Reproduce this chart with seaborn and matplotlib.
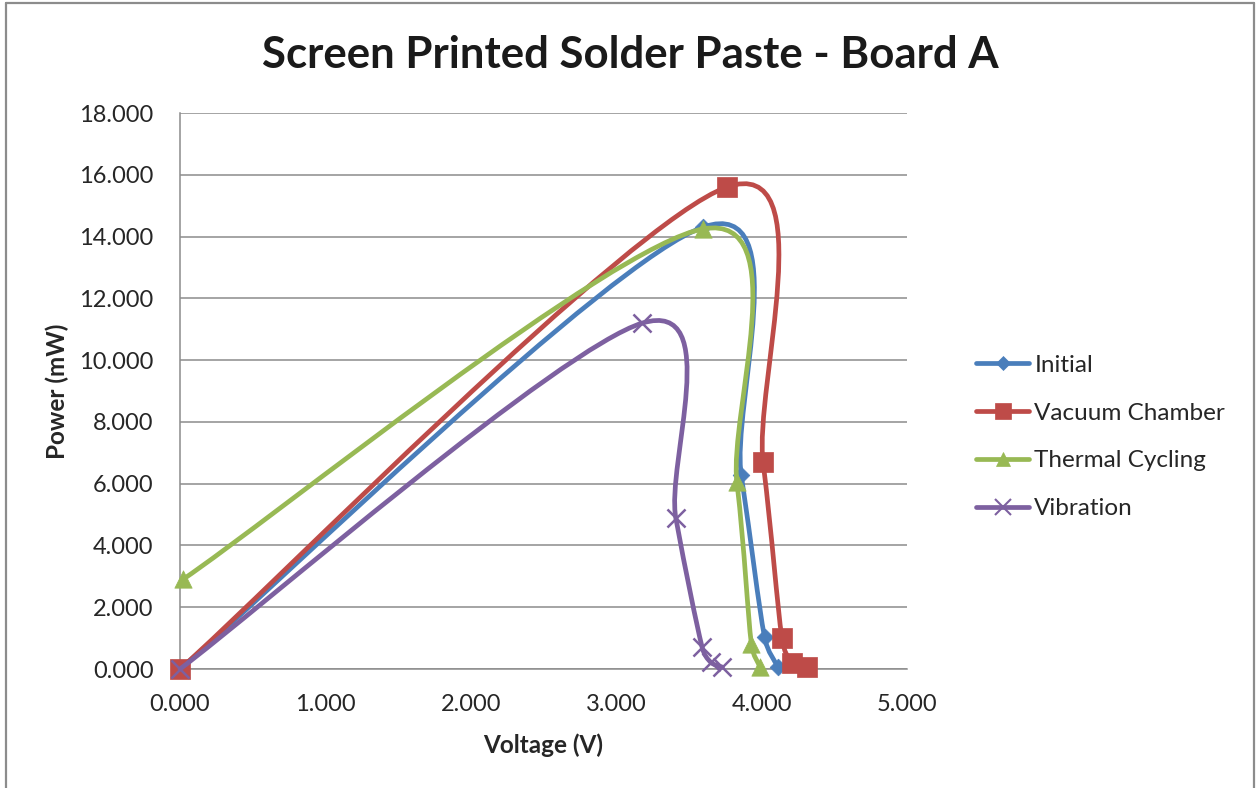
import numpy as np
import seaborn as sns
import matplotlib.pyplot as plt
from matplotlib.path import Path
from matplotlib.patches import PathPatch
from matplotlib.lines import Line2D
from matplotlib.ticker import FuncFormatter

# data (voltage in V, power in mW)
series_names = ["Initial", "Vacuum Chamber", "Thermal Cycling", "Vibration"]

initial_v = [0.000, 3.600, 3.860, 4.020, 4.110]
initial_p = [0.000, 14.310, 6.280, 1.040, 0.080]

vacuum_v = [0.000, 3.760, 4.010, 4.140, 4.210, 4.310]
vacuum_p = [0.000, 15.600, 6.700, 0.990, 0.190, 0.050]

thermal_v = [0.020, 3.600, 3.830, 3.930, 3.990]
thermal_p = [2.900, 14.250, 6.050, 0.800, 0.060]

vibration_v = [0.000, 3.180, 3.410, 3.590, 3.650, 3.730]
vibration_p = [0.000, 11.200, 4.890, 0.720, 0.220, 0.060]

colors = ["#4A7EBB", "#BE4B48", "#98B954", "#7D60A0"]
markers = ["D", "s", "^", "x"]
marker_sizes = [8.5, 14, 12.5, 13]


def excel_smooth(ax, xs, ys):
    # bezier path roughly like Excel's "smoothed line" option, built in pixel space
    pts = ax.transData.transform(np.column_stack([xs, ys]))
    n = len(pts)
    verts = [pts[0]]
    codes = [Path.MOVETO]
    for i in range(n - 1):
        p0 = pts[max(i - 1, 0)]
        p1 = pts[i]
        p2 = pts[i + 1]
        p3 = pts[min(i + 2, n - 1)]
        d12 = np.hypot(*(p2 - p1))
        a1 = (p2 - p0) / 6.0
        a2 = (p3 - p1) / 6.0
        # keep control arms no longer than half the segment
        l1, l2 = np.hypot(*a1), np.hypot(*a2)
        if l1 > d12 / 2:
            a1 = a1 * (d12 / 2) / l1
        if l2 > d12 / 2:
            a2 = a2 * (d12 / 2) / l2
        verts += [p1 + a1, p2 - a2, p2]
        codes += [Path.CURVE4] * 3
    verts = ax.transData.inverted().transform(np.array(verts))
    return Path(verts, codes)


sns.set_style("white")
plt.rcParams["font.family"] = ["Lato", "DejaVu Sans"]

fig = plt.figure(figsize=(12.57, 7.88), dpi=100)
ax = fig.add_axes([180 / 1257, 1 - 669 / 788, 727 / 1257, 556 / 788])
ax.set_xlim(0, 5)
ax.set_ylim(0, 18)
ax.set_xticks(np.arange(0, 5.01, 1))
ax.set_yticks(np.arange(0, 18.01, 2))
fmt = FuncFormatter(lambda v, pos: f"{v:.3f}")
ax.xaxis.set_major_formatter(fmt)
ax.yaxis.set_major_formatter(fmt)
ax.tick_params(length=0, labelsize=17, labelcolor="#262626")
ax.tick_params(axis="y", pad=19)
ax.tick_params(axis="x", pad=18)
ax.yaxis.grid(True, color="#8c8c8c", lw=1.1)
ax.xaxis.grid(False)
for side in ["top", "right"]:
    ax.spines[side].set_visible(False)
for side in ["left", "bottom"]:
    ax.spines[side].set_color("#8c8c8c")
    ax.spines[side].set_linewidth(1.1)

all_v = [initial_v, vacuum_v, thermal_v, vibration_v]
all_p = [initial_p, vacuum_p, thermal_p, vibration_p]

for k, (vs, ps) in enumerate(zip(all_v, all_p)):
    path = excel_smooth(ax, vs, ps)
    ax.add_patch(PathPatch(path, facecolor="none", edgecolor=colors[k], lw=3.4,
                           capstyle="round", joinstyle="round", zorder=3 + k,
                           clip_on=False))
    if markers[k] == "x":
        sns.scatterplot(x=vs, y=ps, ax=ax, marker="x", color=colors[k],
                        s=marker_sizes[k] ** 2, linewidth=1.8, zorder=3.5 + k,
                        clip_on=False, legend=False)
    else:
        sns.scatterplot(x=vs, y=ps, ax=ax, marker=markers[k], color=colors[k],
                        edgecolor=colors[k], s=marker_sizes[k] ** 2, linewidth=0.5,
                        zorder=3.5 + k, clip_on=False, legend=False)

handles = []
for k, name in enumerate(series_names):
    handles.append(Line2D([], [], color=colors[k], lw=3.4, marker=markers[k],
                          markersize=marker_sizes[k] * 0.85,
                          markeredgewidth=1.5 if markers[k] == "x" else 0.5,
                          label=name))
fig.legend(handles=handles, loc="center left", bbox_to_anchor=(976 / 1257, 1 - 437 / 788),
           frameon=False, fontsize=17.5, handlelength=2.2, handletextpad=0.2,
           labelspacing=1.1, borderpad=0, borderaxespad=0, labelcolor="#262626")

fig.text(630 / 1257, 1 - 55 / 788, "Screen Printed Solder Paste - Board A",
         ha="center", va="center", fontsize=31.5, fontweight="bold", color="#1a1a1a")
fig.text(543 / 1257, 1 - 745 / 788, "Voltage (V)", ha="center", va="center",
         fontsize=17.5, fontweight="bold", color="#262626")
fig.text(57 / 1257, 1 - 391 / 788, "Power (mW)", ha="center", va="center",
         rotation=90, fontsize=17.5, fontweight="bold", color="#262626")

# outer chart border (left, top, right)
border = dict(color="#8c8c8c", lw=1.6, transform=fig.transFigure)
fig.add_artist(Line2D([5.5 / 1257, 5.5 / 1257], [0, 1 - 3 / 788], **border))
fig.add_artist(Line2D([5.5 / 1257, 1254 / 1257], [1 - 3 / 788, 1 - 3 / 788], **border))
fig.add_artist(Line2D([1254 / 1257, 1254 / 1257], [0, 1 - 3 / 788], **border))

fig.savefig("out.png", dpi=100)
